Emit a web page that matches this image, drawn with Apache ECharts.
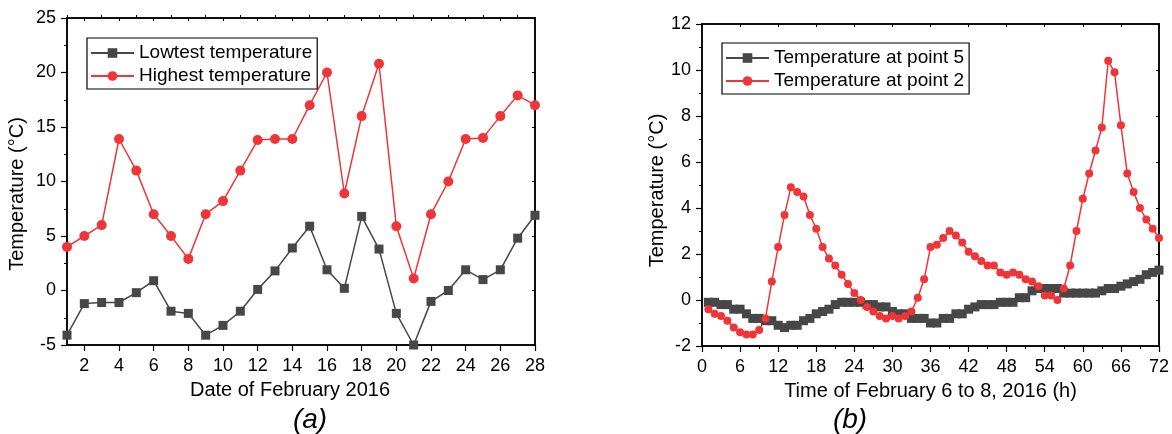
<!DOCTYPE html>
<html>
<head>
<meta charset="utf-8">
<script src="https://cdn.jsdelivr.net/npm/echarts@6/dist/echarts.min.js"></script>
<style>
html,body{margin:0;padding:0;background:#fff;}
#chart{width:1172px;height:434px;}
</style>
</head>
<body>
<div id="chart"></div>
<script>
// ---- Panel (a) data ----
const days = [1,2,3,4,5,6,7,8,9,10,11,12,13,14,15,16,17,18,19,20,21,22,23,24,25,26,27,28];
const lowTemp = [-4.1,-1.2,-1.1,-1.1,-0.2,0.9,-1.9,-2.1,-4.1,-3.2,-1.9,0.1,1.8,3.9,5.9,1.9,0.2,6.8,3.8,-2.1,-5.0,-1.0,0.0,1.9,1.0,1.9,4.8,6.9];
const highTemp = [4.0,5.0,6.0,13.9,11.0,7.0,5.0,2.9,7.0,8.2,11.0,13.8,13.9,13.9,17.0,20.0,8.9,16.0,20.8,5.9,1.1,7.0,10.0,13.9,14.0,16.0,17.9,17.0];
const dayTicks = [2,4,6,8,10,12,14,16,18,20,22,24,26,28];
const dayMinorTicks = [1,3,5,7,9,11,13,15,17,19,21,23,25,27];

// ---- Panel (b) data ----
const hours = [1,2,3,4,5,6,7,8,9,10,11,12,13,14,15,16,17,18,19,20,21,22,23,24,25,26,27,28,29,30,31,32,33,34,35,36,
  37,38,39,40,41,42,43,44,45,46,47,48,49,50,51,52,53,54,55,56,57,58,59,60,61,62,63,64,65,66,67,68,69,70,71,72];
const point5 = [-0.1,-0.1,-0.2,-0.2,-0.4,-0.4,-0.6,-0.8,-0.8,-0.9,-0.9,-1.1,-1.2,-1.1,-1.1,-0.9,-0.8,-0.6,-0.5,-0.4,
  -0.2,-0.1,-0.1,-0.1,-0.1,-0.2,-0.2,-0.3,-0.3,-0.5,-0.6,-0.6,-0.8,-0.8,-0.8,-1.0,-1.0,-0.8,-0.8,-0.6,
  -0.6,-0.4,-0.3,-0.2,-0.2,-0.2,-0.1,-0.1,-0.1,0.1,0.1,0.4,0.5,0.5,0.5,0.5,0.3,0.3,0.3,0.3,
  0.3,0.3,0.4,0.5,0.5,0.6,0.7,0.8,0.9,1.1,1.2,1.3];
const point2 = [-0.4,-0.6,-0.7,-0.9,-1.2,-1.4,-1.5,-1.5,-1.3,-0.8,0.8,2.3,3.7,4.9,4.7,4.5,3.7,3.1,2.3,1.8,
  1.5,1.1,0.7,0.3,0.0,-0.3,-0.5,-0.7,-0.8,-0.7,-0.8,-0.7,-0.5,0.1,0.9,2.3,2.4,2.7,3.0,2.8,
  2.5,2.1,1.9,1.7,1.5,1.5,1.2,1.1,1.2,1.1,0.9,0.8,0.6,0.2,0.2,0.0,0.5,1.5,3.0,4.4,
  5.5,6.5,7.5,10.4,9.9,7.6,5.5,4.7,4.0,3.5,3.1,2.7];

const FONT = "'Liberation Sans', Arial, sans-serif";
const GREY = '#474747';
const RED = '#ef3538';
const BLACK = '#000';

const chart = echarts.init(document.getElementById('chart'), null, {renderer:'canvas'});

const lineAxis = {show:true, onZero:false, lineStyle:{color:BLACK, width:1.5}};
const noSplit = {show:false};
const yLabelStyle = {color:BLACK, fontSize:18, fontFamily:FONT, margin:11};
const xLabelStyle = {color:BLACK, fontSize:18, fontFamily:FONT, margin:12};

function mainY(grid, min, max, interval, gap, shiftPad) {
  return {
    gridIndex:grid, type:'value', min:min, max:max, interval:interval,
    axisLine:lineAxis, splitLine:noSplit,
    axisTick:{show:true, inside:false, length:6, lineStyle:{color:BLACK, width:1.2}},
    minorTick:{show:true, splitNumber:2, length:3, lineStyle:{color:BLACK, width:1}},
    axisLabel:yLabelStyle,
    name:'Temperature (°C)', nameLocation:'middle', nameRotate:90, nameGap:gap,
    nameTextStyle:{color:BLACK, fontSize:20, fontFamily:FONT, padding:[0, shiftPad, 0, 0]}
  };
}
function sideY(grid, min, max, interval) {
  return {
    gridIndex:grid, type:'value', position:'right', min:min, max:max, interval:interval,
    axisLine:lineAxis, splitLine:noSplit,
    axisTick:{show:true, inside:true, length:3, lineStyle:{color:BLACK, width:1}},
    axisLabel:{show:false}
  };
}
function legendBox(names, left, top) {
  return {
    data:names, orient:'vertical', left:left, top:top,
    padding:[5,5,3,3], itemGap:3, itemWidth:43, itemHeight:12,
    borderColor:BLACK, borderWidth:1.2, backgroundColor:'#fff',
    textStyle:{color:BLACK, fontSize:19, fontFamily:FONT, lineHeight:20}
  };
}

const option = {
  animation:false,
  backgroundColor:'#fff',
  textStyle:{fontFamily:FONT},
  grid:[
    {left:67, right:637, top:18, bottom:89, show:true, borderColor:BLACK, borderWidth:1.5, backgroundColor:'transparent'},
    {left:702, right:13, top:24, bottom:88, show:true, borderColor:BLACK, borderWidth:1.5, backgroundColor:'transparent'}
  ],
  xAxis:[
    {
      gridIndex:0, type:'value', min:1, max:28,
      axisLine:lineAxis, splitLine:noSplit,
      axisTick:{show:true, inside:false, length:6, customValues:dayTicks, lineStyle:{color:BLACK, width:1.2}},
      axisLabel:Object.assign({}, xLabelStyle, {customValues:dayTicks}),
      name:'Date of February 2016', nameLocation:'middle', nameGap:35,
      nameTextStyle:{color:BLACK, fontSize:20, fontFamily:FONT, padding:[0, 22, 0, 0]}
    },
    {
      gridIndex:0, type:'value', min:1, max:28,
      axisLine:{show:false, onZero:false}, splitLine:noSplit,
      axisTick:{show:true, inside:false, length:3, customValues:dayMinorTicks, lineStyle:{color:BLACK, width:1}},
      axisLabel:{show:false}
    },
    {
      gridIndex:0, type:'value', position:'top', min:1, max:28,
      axisLine:lineAxis, splitLine:noSplit,
      axisTick:{show:true, inside:true, length:3, customValues:dayTicks, lineStyle:{color:BLACK, width:1}},
      axisLabel:{show:false}
    },
    {
      gridIndex:1, type:'value', min:0, max:72, interval:6,
      axisLine:lineAxis, splitLine:noSplit,
      axisTick:{show:true, inside:false, length:6, lineStyle:{color:BLACK, width:1.2}},
      minorTick:{show:true, splitNumber:2, length:3, lineStyle:{color:BLACK, width:1}},
      axisLabel:xLabelStyle,
      name:'Time of February 6 to 8, 2016 (h)', nameLocation:'middle', nameGap:35,
      nameTextStyle:{color:BLACK, fontSize:20, fontFamily:FONT}
    },
    {
      gridIndex:1, type:'value', position:'top', min:0, max:72, interval:6,
      axisLine:lineAxis, splitLine:noSplit,
      axisTick:{show:true, inside:true, length:3, lineStyle:{color:BLACK, width:1}},
      axisLabel:{show:false}
    }
  ],
  yAxis:[
    mainY(0, -5, 25, 5, 40, 25),
    sideY(0, -5, 25, 5),
    mainY(1, -2, 12, 2, 33, 11),
    sideY(1, -2, 12, 2)
  ],
  legend:[
    legendBox(['Lowtest temperature','Highest temperature'], 87, 38),
    legendBox(['Temperature at point 5','Temperature at point 2'], 722, 43)
  ],
  series:[
    {
      name:'Lowtest temperature', type:'line', xAxisIndex:0, yAxisIndex:0,
      data:days.map((d,i)=>[d, lowTemp[i]]),
      symbol:'rect', symbolSize:9, color:GREY,
      lineStyle:{color:GREY, width:1.5}, itemStyle:{color:GREY}
    },
    {
      name:'Highest temperature', type:'line', xAxisIndex:0, yAxisIndex:0,
      data:days.map((d,i)=>[d, highTemp[i]]),
      symbol:'circle', symbolSize:10, color:RED,
      lineStyle:{color:RED, width:1.5}, itemStyle:{color:RED}
    },
    {
      name:'Temperature at point 5', type:'line', xAxisIndex:3, yAxisIndex:2,
      data:hours.map((h,i)=>[h, point5[i]]),
      symbol:'rect', symbolSize:9, color:GREY,
      lineStyle:{color:GREY, width:1.5}, itemStyle:{color:GREY}
    },
    {
      name:'Temperature at point 2', type:'line', xAxisIndex:3, yAxisIndex:2,
      data:hours.map((h,i)=>[h, point2[i]]),
      symbol:'circle', symbolSize:8, color:RED,
      lineStyle:{color:RED, width:1.5}, itemStyle:{color:RED}
    }
  ],
  graphic:[
    {type:'text', x:310, y:420, style:{text:'(a)', fontSize:28, fontStyle:'italic', fontFamily:FONT, fill:BLACK, align:'center', verticalAlign:'middle'}},
    {type:'text', x:850, y:420, style:{text:'(b)', fontSize:28, fontStyle:'italic', fontFamily:FONT, fill:BLACK, align:'center', verticalAlign:'middle'}}
  ]
};
chart.setOption(option);
</script>
</body>
</html>
